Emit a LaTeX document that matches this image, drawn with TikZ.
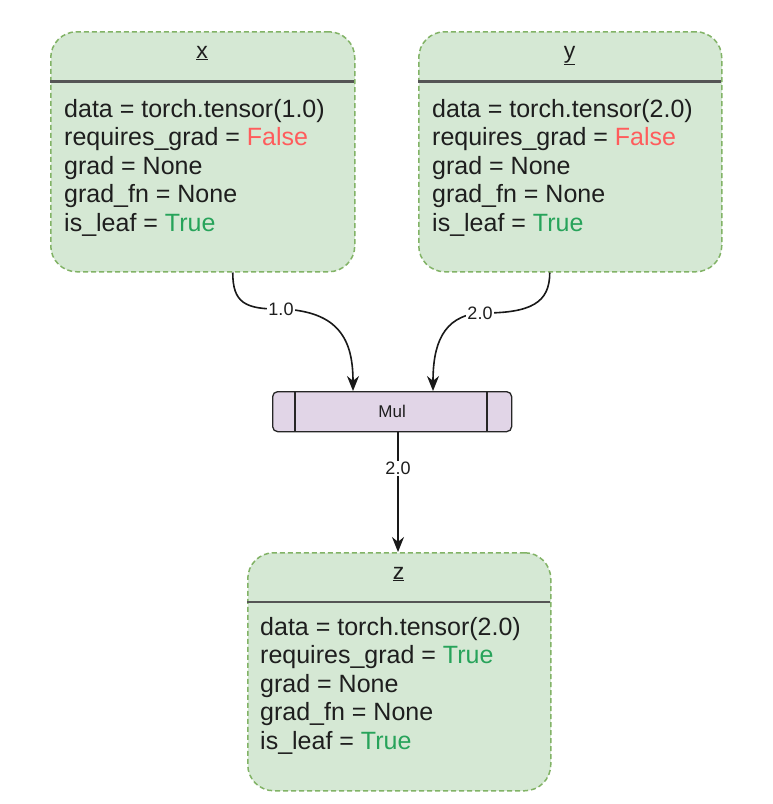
\documentclass[tikz,border=0pt]{standalone}
\usepackage{fontspec}
\setmainfont{Liberation Sans}
\usetikzlibrary{calc,arrows.meta}
\definecolor{boxfill}{HTML}{D5E8D4}
\definecolor{boxline}{HTML}{82B366}
\definecolor{mulfill}{HTML}{E1D5E7}
\definecolor{falsec}{HTML}{FF5C5C}
\definecolor{truec}{HTML}{27A35A}
\definecolor{txt}{HTML}{1E1E1E}
\definecolor{hdr}{HTML}{555555}
\tikzset{
  tensorbox/.style={draw=boxline, fill=boxfill, dash pattern=on 5pt off 3pt, line width=1.5pt, rounded corners=26pt, anchor=north west, inner sep=0pt},
  hdrline/.style={draw=hdr, line width=2.8pt},
  ttl/.style={font=\fontsize{23}{26}\selectfont, text=txt, anchor=base, inner sep=0pt},
  fld/.style={font=\fontsize{25}{28.5}\selectfont, text=txt, anchor=base west, inner sep=0pt},
  mulbox/.style={draw=black!85, fill=mulfill, line width=1.3pt, rounded corners=5pt, anchor=north west, inner sep=0pt},
  conn/.style={draw=black!90, line width=1.6pt, -{Stealth[length=15pt,width=12pt]}},
  lbl/.style={fill=white, text=txt, font=\fontsize{18}{20}\selectfont, inner sep=1pt}
}
\newcommand{\fields}[6]{%
  \node[fld] (#1d) at (#2,#3) {data = torch.tensor(#4)};
  \node[fld] (#1r) at (#2,#3+28.5) {requires\_grad = #5};
  \node[fld] (#1g) at (#2,#3+57) {grad = None};
  \node[fld] (#1f) at (#2,#3+85.5) {grad\_fn = None};
  \node[fld] (#1l) at (#2,#3+114) {is\_leaf = #6};
}
\begin{document}
\begin{tikzpicture}[x=1pt,y=-1pt]
\useasboundingbox (0,0) rectangle (772,804);
\fill[white] (0,0) rectangle (772,804);
% x box
\node[tensorbox, minimum width=304pt, minimum height=240pt] (xb) at (50,31) {};
\draw[hdrline] (50,81.5) -- (354,81.5);
\node[ttl] (xt) at (202,58) {\underline{x}};
\fields{x}{64}{117}{1.0}{\textcolor{falsec}{False}}{\textcolor{truec}{True}}
% y box
\node[tensorbox, minimum width=303pt, minimum height=240pt] (yb) at (418,31) {};
\draw[hdrline] (418,81.5) -- (721,81.5);
\node[ttl] (yt) at (569.5,58) {\underline{y}};
\fields{y}{432}{117}{2.0}{\textcolor{falsec}{False}}{\textcolor{truec}{True}}
% Mul
\node[mulbox, minimum width=239pt, minimum height=40pt] (mul) at (272,391) {};
\draw[draw=black!85, line width=1.3pt] (295,391) -- (295,431);
\draw[draw=black!85, line width=1.3pt] (487,391) -- (487,431);
\node[text=txt, font=\fontsize{17}{19}\selectfont] (mult) at (mul.center) {Mul};
% z box
\node[tensorbox, minimum width=303pt, minimum height=238pt] (zb) at (247,552) {};
\draw[hdrline] (247,602) -- (550,602);
\node[ttl] (zt) at (398.5,579) {\underline{z}};
\fields{z}{260}{635}{2.0}{\textcolor{truec}{True}}{\textcolor{truec}{True}}
% connectors
\coordinate (xs) at ($(xb.south)+(30,0)$);
\coordinate (xe) at ($(mul.north west)+(81,0)$);
\coordinate (ys) at ($(yb.south)+(-20.5,0)$);
\coordinate (ye) at ($(mul.north west)+(161,0)$);
\draw[conn] (xs) .. controls ($(xs)+(0,30)$) and ($(xs)+(12,37)$) .. (281,309) node[lbl] (l1) {1.0}
  .. controls (340,311) and ($(xe)+(0,-50)$) .. (xe);
\draw[conn] (ys) .. controls ($(ys)+(0,30)$) and ($(ys)+(-18,41)$) .. (480,313) node[lbl] (l2) {2.0}
  .. controls (442,316) and ($(ye)+(0,-45)$) .. (ye);
\draw[conn] ($(mul.south west)+(126,0)$) -- node[lbl, pos=0.3] (l3) {2.0} ($(zb.north west)+(151,0)$);
\end{tikzpicture}
\end{document}
